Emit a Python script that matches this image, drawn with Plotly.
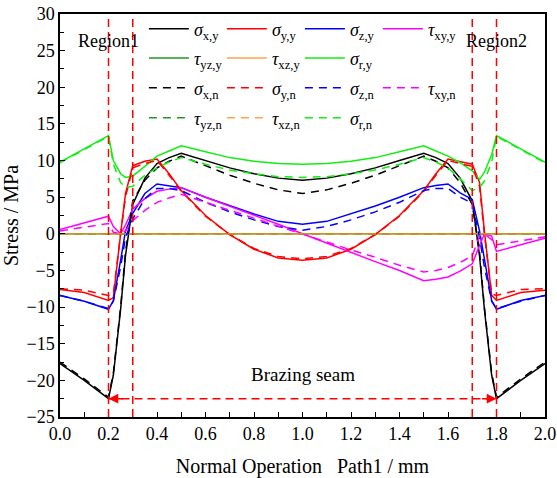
import plotly.graph_objects as go

# ---- data ----
X = [0, 0.1, 0.2, 0.22, 0.25, 0.27, 0.3, 0.35, 0.4, 0.45, 0.5, 0.6, 0.7, 0.8, 0.9, 1.0,
     1.1, 1.2, 1.3, 1.4, 1.5, 1.55, 1.6, 1.65, 1.7, 1.73, 1.75, 1.78, 1.8, 1.9, 2.0]

sx_y = [-17.7, -20.0, -22.5, -19.3, -10.3, -3.0, 4.0, 7.6, 9.6, 10.4, 11.0, 10.0, 9.0, 8.2, 7.6, 7.3,
        7.6, 8.2, 9.0, 10.0, 11.0, 10.4, 9.6, 7.6, 4.5, -3.0, -10.3, -19.3, -22.5, -20.0, -17.7]
sy_y = [-7.6, -8.0, -9.1, -8.7, 0.0, 5.5, 9.3, 9.9, 10.2, 8.2, 5.9, 2.5, -0.1, -2.1, -3.3, -3.6,
        -3.3, -2.1, -0.1, 2.5, 5.9, 8.2, 10.2, 9.9, 9.5, 7.0, 0.4, -8.4, -9.1, -8.0, -7.7]
sz_y = [-8.4, -9.2, -10.3, -9.1, -3.6, 0.4, 2.8, 5.5, 6.8, 6.6, 6.3, 5.0, 3.8, 2.7, 1.7, 1.3,
        1.7, 2.7, 3.8, 5.0, 6.3, 6.6, 6.8, 5.6, 4.7, 0.4, -3.6, -9.1, -10.3, -9.1, -8.4]
txy_y = [0.6, 1.5, 2.4, 1.0, 0.0, 1.2, 3.4, 4.8, 5.8, 6.1, 6.3, 5.0, 3.8, 2.5, 1.3, 0.0,
         -1.3, -2.5, -3.8, -5.0, -6.4, -6.2, -5.9, -5.1, -4.1, -1.6, 0.0, -0.3, -2.4, -1.5, -0.6]
tyz_y = [0.0] * 31
txz_y = [0.0] * 31
sr_y = [9.8, 11.6, 13.4, 10.0, 8.2, 7.7, 7.9, 9.2, 10.6, 11.3, 12.0, 11.2, 10.4, 9.9, 9.6, 9.5,
        9.6, 9.9, 10.4, 11.2, 12.0, 11.3, 10.6, 9.7, 8.6, 7.4, 8.4, 10.8, 13.4, 11.6, 9.8]

sx_n = [-17.5, -19.8, -22.3, -19.0, -10.0, -2.5, 4.5, 7.3, 9.0, 9.9, 10.6, 9.3, 8.0, 6.9, 6.0, 5.5,
        6.0, 6.9, 8.0, 9.3, 10.6, 9.9, 9.0, 7.0, 4.0, -2.5, -10.0, -19.0, -22.3, -19.8, -17.5]
sy_n = [-7.5, -7.7, -8.4, -8.2, 0.0, 5.0, 9.0, 9.6, 10.0, 8.0, 5.8, 2.4, -0.1, -2.0, -3.1, -3.4,
        -3.1, -2.0, -0.1, 2.4, 5.8, 8.0, 10.0, 9.6, 9.2, 6.5, 0.0, -8.2, -8.4, -7.6, -7.5]
sz_n = [-8.4, -9.2, -10.2, -9.2, -4.5, -0.5, 2.0, 4.8, 6.2, 6.2, 5.9, 4.3, 3.0, 1.9, 1.0, 0.5,
        1.0, 1.9, 3.0, 4.3, 5.9, 6.2, 6.2, 5.0, 4.2, -0.5, -4.5, -9.2, -10.2, -9.2, -8.4]
txy_n = [0.4, 0.9, 1.4, 0.2, 0.0, 0.4, 1.8, 3.2, 4.3, 4.9, 5.4, 4.3, 3.2, 2.2, 1.1, 0.0,
         -1.1, -2.2, -3.2, -4.3, -5.2, -5.0, -4.6, -3.9, -3.0, -0.3, 0.0, -0.8, -1.5, -0.9, -0.4]
tyz_n = [0.0] * 31
txz_n = [0.0] * 31
sr_n = [9.7, 11.5, 13.3, 9.5, 7.0, 6.3, 6.5, 8.0, 9.0, 9.8, 10.4, 9.5, 8.7, 8.2, 7.8, 7.7,
        7.8, 8.2, 8.7, 9.5, 10.4, 9.8, 9.0, 7.5, 5.9, 6.3, 7.2, 9.8, 13.3, 11.5, 9.7]

REGION_X = [0.2, 0.3, 1.7, 1.8]
SEAM_X = [0.2, 1.8]
SEAM_Y = -22.5

X_TICKS = [0.0, 0.2, 0.4, 0.6, 0.8, 1.0, 1.2, 1.4, 1.6, 1.8, 2.0]
Y_TICKS = [30, 25, 20, 15, 10, 5, 0, -5, -10, -15, -20, -25]

FONT = "Liberation Serif, Times New Roman, serif"

series = [
    ("<i>σ</i><sub>x,y</sub>", sx_y, "#000000", "solid", "legend", 1.0),
    ("<i>σ</i><sub>y,y</sub>", sy_y, "#FF0000", "solid", "legend", 1.0),
    ("<i>σ</i><sub>z,y</sub>", sz_y, "#0000FF", "solid", "legend", 1.0),
    ("<i>τ</i><sub>xy,y</sub>", txy_y, "#FF00FF", "solid", "legend", 1.0),
    ("<i>τ</i><sub>yz,y</sub>", tyz_y, "#229922", "solid", "legend2", 1.0),
    ("<i>τ</i><sub>xz,y</sub>", txz_y, "#FF8C1A", "solid", "legend2", 0.8),
    ("<i>σ</i><sub>r,y</sub>", sr_y, "#11EE11", "solid", "legend2", 1.0),
    ("<i>σ</i><sub>x,n</sub>", sx_n, "#000000", "8px,6px", "legend3", 1.0),
    ("<i>σ</i><sub>y,n</sub>", sy_n, "#FF0000", "8px,6px", "legend3", 1.0),
    ("<i>σ</i><sub>z,n</sub>", sz_n, "#0000FF", "8px,6px", "legend3", 1.0),
    ("<i>τ</i><sub>xy,n</sub>", txy_n, "#FF00FF", "8px,6px", "legend3", 1.0),
    ("<i>τ</i><sub>yz,n</sub>", tyz_n, "#229922", "8px,6px", "legend4", 1.0),
    ("<i>τ</i><sub>xz,n</sub>", txz_n, "#FF8C1A", "8px,6px", "legend4", 0.8),
    ("<i>σ</i><sub>r,n</sub>", sr_n, "#11EE11", "8px,6px", "legend4", 1.0),
]

fig = go.Figure()
for name, ys, col, dash, lg, op in series:
    fig.add_trace(go.Scatter(x=X, y=ys, mode="lines", name=name, opacity=op,
                             line=dict(color=col, width=1.5, dash=dash),
                             legend=lg))

# region boundaries
for xv in REGION_X:
    fig.add_shape(type="line", xref="x", yref="paper", x0=xv, x1=xv, y0=0, y1=1,
                  line=dict(color="#FF0000", width=1.5, dash="8px,5px"))
# brazing seam line
fig.add_shape(type="line", xref="x", yref="y", x0=SEAM_X[0], x1=SEAM_X[1], y0=SEAM_Y, y1=SEAM_Y,
              line=dict(color="#FF0000", width=1.5, dash="8px,5px"))
# arrowheads
fig.add_annotation(x=SEAM_X[0], y=SEAM_Y, xref="x", yref="y", text="", showarrow=True,
                   ax=16, ay=0, arrowhead=2, arrowsize=1.3, arrowwidth=1.5, arrowcolor="#FF0000")
fig.add_annotation(x=SEAM_X[1], y=SEAM_Y, xref="x", yref="y", text="", showarrow=True,
                   ax=-16, ay=0, arrowhead=2, arrowsize=1.3, arrowwidth=1.5, arrowcolor="#FF0000")
fig.add_annotation(x=1.0, y=-19.2, xref="x", yref="y", text="Brazing seam", showarrow=False,
                   font=dict(family=FONT, size=19, color="black"))
fig.add_annotation(x=0.2, y=26.3, xref="x", yref="y", text="Region1", showarrow=False,
                   font=dict(family=FONT, size=18, color="black"))
fig.add_annotation(x=1.8, y=26.3, xref="x", yref="y", text="Region2", showarrow=False,
                   font=dict(family=FONT, size=18, color="black"))

leg_common = dict(orientation="h", xanchor="left", yanchor="middle", x=0.173,
                  entrywidthmode="pixels", entrywidth=23, itemwidth=40,
                  bgcolor="rgba(0,0,0,0)", borderwidth=0,
                  font=dict(family=FONT, size=18, color="black"))

fig.update_layout(
    width=557, height=478,
    margin=dict(l=60, r=12, t=13, b=61),
    paper_bgcolor="white", plot_bgcolor="white",
    font=dict(family=FONT, size=18, color="black"),
    showlegend=True,
    legend=dict(leg_common, y=0.960),
    legend2=dict(leg_common, y=0.888),
    legend3=dict(leg_common, y=0.814),
    legend4=dict(leg_common, y=0.740),
    xaxis=dict(range=[0, 2], tickvals=X_TICKS, ticktext=[f"{v:.1f}" for v in X_TICKS],
               ticks="inside", ticklen=5, tickwidth=1, tickcolor="black",
               minor=dict(dtick=0.1, ticks="inside", ticklen=5, tickcolor="black"),
               showline=True, linecolor="black", linewidth=1.5, mirror=True,
               showgrid=False, zeroline=False, automargin=False,
               tickfont=dict(family=FONT, size=18),
               title=dict(text="Normal Operation\u00a0\u00a0\u00a0Path1 / mm",
                          font=dict(family=FONT, size=20), standoff=16)),
    yaxis=dict(range=[-25, 30], tickvals=Y_TICKS,
               ticks="inside", ticklen=5, tickwidth=1, tickcolor="black",
               minor=dict(dtick=2.5, ticks="inside", ticklen=4, tickcolor="black"),
               showline=True, linecolor="black", linewidth=1.5, mirror=True,
               showgrid=False, zeroline=False, automargin=False,
               tickfont=dict(family=FONT, size=18),
               title=dict(text="Stress / MPa", font=dict(family=FONT, size=20), standoff=6)),
)

fig.write_html("out.html")
